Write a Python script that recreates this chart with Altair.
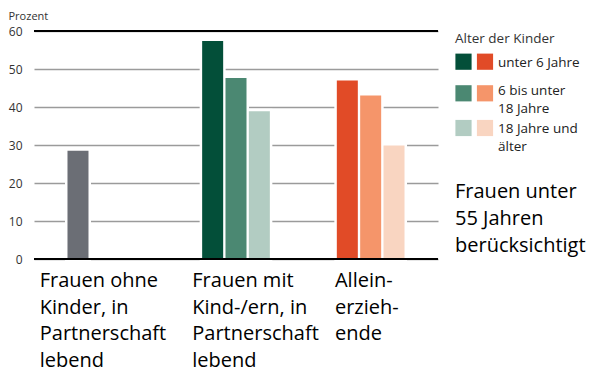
import altair as alt
import pandas as pd

# ---- data ----
groups = [
    "Frauen ohne Kinder, in Partnerschaft lebend",
    "Frauen mit Kind-/ern, in Partnerschaft lebend",
    "Alleinerziehende",
]
group_labels = [
    "Frauen ohne\nKinder, in\nPartnerschaft\nlebend",
    "Frauen mit\nKind-/ern, in\nPartnerschaft\nlebend",
    "Allein-\nerzieh-\nende",
]
ages = ["unter 6 Jahre", "6 bis unter 18 Jahre", "18 Jahre und älter"]
age_labels = ["unter 6 Jahre", "6 bis unter\n18 Jahre", "18 Jahre und\nälter"]

values_ohne = [28.5]
values_paar = [57.4, 47.6, 38.9]
values_allein = [47.0, 43.0, 29.9]

colors_ohne = ["#6b6e75"]
colors_paar = ["#034f39", "#4b8872", "#b2ccc2"]
colors_allein = ["#e14b27", "#f5956a", "#f9d5c1"]

y_ticks = [0, 10, 20, 30, 40, 50, 60]
frame_lines = [0, 60]

note = "Frauen unter\n55 Jahren\nberücksichtigt"
legend_title = "Alter der Kinder"

# ---- build table ----
rows = []
for g, vals, cols in [
    (groups[0], values_ohne, colors_ohne),
    (groups[1], values_paar, colors_paar),
    (groups[2], values_allein, colors_allein),
]:
    for i, (v, c) in enumerate(zip(vals, cols)):
        rows.append({"gruppe": g, "slot": i, "wert": v, "key": f"{g}|{i}", "farbe": c})
df = pd.DataFrame(rows)

FONT = "Open Sans"
W, H = 404, 228

x_enc = alt.X("gruppe:N", sort=groups, axis=None,
              scale=alt.Scale(paddingInner=0.48, paddingOuter=0.24))
xo_enc = alt.XOffset("slot:O", scale=alt.Scale(paddingInner=0.1, paddingOuter=0.05))
y_axis = alt.Axis(values=y_ticks, grid=True, gridColor="#9b9b9b", gridWidth=1.6,
                  domain=False, ticks=False, labelPadding=12, labelFontSize=12,
                  labelColor="#333333", labelFont=FONT, labelOverlap=False,
                  title="Prozent", titleAngle=0, titleAlign="left",
                  titleBaseline="alphabetic", titleX=-26, titleY=-12,
                  titleFontWeight="normal", titleFontSize=11, titleFont=FONT,
                  titleColor="#333333")
y_enc = alt.Y("wert:Q", scale=alt.Scale(domain=[0, 60], nice=False), axis=y_axis)

halo = alt.Chart(df).mark_bar(color="white", stroke="white", strokeWidth=5).encode(
    x=x_enc, xOffset=xo_enc, y=y_enc)

bars = alt.Chart(df).mark_bar().encode(
    x=x_enc, xOffset=xo_enc, y=y_enc,
    color=alt.Color("key:N", scale=alt.Scale(domain=list(df["key"]), range=list(df["farbe"])),
                    legend=None))

rules = alt.Chart(pd.DataFrame({"wert": frame_lines})).mark_rule(
    color="black", strokeWidth=2.2).encode(y=y_enc)

layers = [halo, bars, rules]

# category labels under the groups
label_dx = [-61.6, -43.7, -35.7]
lab_df = pd.DataFrame({"gruppe": groups, "text": group_labels})
for g, dx in zip(groups, label_dx):
    layers.append(
        alt.Chart(lab_df).transform_filter(alt.datum.gruppe == g).mark_text(
            align="left", baseline="alphabetic", lineBreak="\n", lineHeight=26.5,
            fontSize=20, font=FONT, color="black", dx=dx
        ).encode(x=alt.X("gruppe:N", sort=groups), y=alt.value(H + 28), text="text:N")
    )

# legend (two swatch columns, one label)
LX = 421
layers.append(
    alt.Chart(pd.DataFrame({"t": [legend_title]})).mark_text(
        align="left", baseline="alphabetic", fontSize=13.5, font=FONT, color="#333333"
    ).encode(x=alt.value(LX), y=alt.value(12), text="t:N")
)
sw_y = [30.7, 62.3, 97.0]
lab_y = [36, 64, 102]
for i in range(3):
    sdf = pd.DataFrame({"age": [ages[i]], "t": [age_labels[i]]})
    layers.append(alt.Chart(sdf).mark_square(size=262, opacity=1).encode(
        x=alt.value(LX + 8.5), y=alt.value(sw_y[i]), color=alt.ColorValue(colors_paar[i])))
    layers.append(alt.Chart(sdf).mark_square(size=262, opacity=1).encode(
        x=alt.value(LX + 30), y=alt.value(sw_y[i]), color=alt.ColorValue(colors_allein[i])))
    layers.append(alt.Chart(sdf).mark_text(
        align="left", baseline="alphabetic", lineBreak="\n", lineHeight=18,
        fontSize=13.5, font=FONT, color="#222222"
    ).encode(x=alt.value(LX + 43), y=alt.value(lab_y[i]), text="t:N"))

# note
layers.append(
    alt.Chart(pd.DataFrame({"t": [note]})).mark_text(
        align="left", baseline="alphabetic", lineBreak="\n", lineHeight=27,
        fontSize=20, font=FONT, color="black"
    ).encode(x=alt.value(LX), y=alt.value(167), text="t:N")
)

chart = alt.layer(*layers).properties(
    width=W, height=H, autosize="none",
    padding={"left": 26, "top": 23, "right": 154, "bottom": 112},
).configure_view(stroke=None).resolve_scale(color="independent")

chart.save("out.html", embed_options={"renderer": "svg", "actions": False})
